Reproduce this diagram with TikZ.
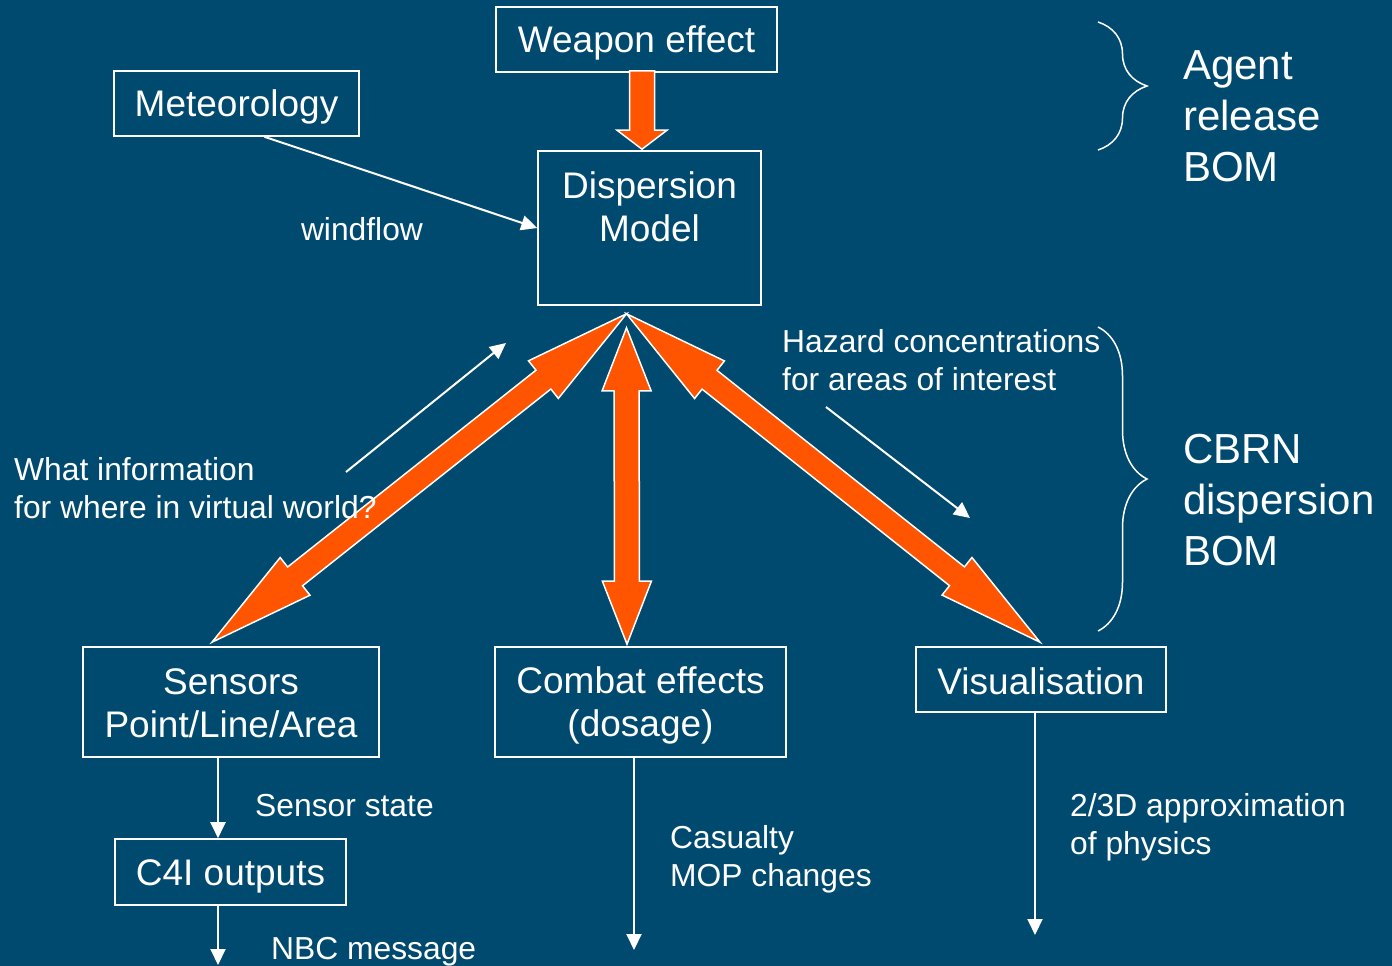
\documentclass[tikz,border=0pt]{standalone}
\usepackage{fontspec}
\setmainfont{Liberation Sans}
\usetikzlibrary{calc,arrows.meta,decorations.pathreplacing}
\definecolor{slidebg}{RGB}{0,74,111}
\definecolor{flow}{RGB}{255,85,0}
% #1 from, #2 to, #3 head length, #4 head half width, #5 shaft half width
\newcommand\dblarrow[5]{%
  \path ($(#1)!#3!(#2)$) coordinate (ha) ($(#2)!#3!(#1)$) coordinate (hb);
  \filldraw[bigarrow] (#1) -- ($(ha)!#4!90:(#2)$) -- ($(ha)!#5!90:(#2)$)
    -- ($(hb)!#5!-90:(#1)$) -- ($(hb)!#4!-90:(#1)$) -- (#2)
    -- ($(hb)!#4!90:(#1)$) -- ($(hb)!#5!90:(#1)$)
    -- ($(ha)!#5!-90:(#2)$) -- ($(ha)!#4!-90:(#2)$) -- cycle;}
\newcommand\onearrow[5]{%
  \path ($(#2)!#3!(#1)$) coordinate (hb);
  \filldraw[bigarrow] ($(#1)!#5!90:(#2)$) -- ($(hb)!#5!-90:(#1)$)
    -- ($(hb)!#4!-90:(#1)$) -- (#2) -- ($(hb)!#4!90:(#1)$)
    -- ($(hb)!#5!90:(#1)$) -- ($(#1)!#5!-90:(#2)$) -- cycle;}
\begin{document}
\begin{tikzpicture}[x=1pt,y=-1pt,
	box/.style={draw=white,line width=1.6pt,inner sep=0pt},
	boxtext/.style={inner sep=0pt,text=white,align=center,font=\fontsize{37}{43}\selectfont},
	lbl/.style={text=white,inner sep=0pt,align=left,font=\fontsize{31.8}{38}\selectfont},
	side/.style={text=white,inner sep=0pt,align=left,font=\fontsize{42}{51}\selectfont},
	thin/.style={white,line width=2pt,-{Triangle[length=16pt,width=15pt]}},
	bigarrow/.style={fill=flow,draw=white,line width=1.5pt,line join=miter},
	curly/.style={white,line width=1.5pt,decorate,decoration={brace,amplitude=49pt}}]
		\fill[slidebg] (0,0) rectangle (1392,966);
		\useasboundingbox (0,0) rectangle (1392,966);
		
		\node[box,minimum width=281pt,minimum height=65pt] (weap) at (636.5,39.5) {};
		\node[boxtext] (weapt) at (636.5,42.5) {Weapon effect};
		\node[box,minimum width=245pt,minimum height=65pt] (met) at (236.5,103.5) {};
		\node[boxtext] (mett) at (236.5,106.5) {Meteorology};
		\node[box,minimum width=223pt,minimum height=154pt] (disp) at (649.5,228) {};
		\node[boxtext] (dispt) at (649.5,207) {Dispersion\\Model};
		\node[box,minimum width=296pt,minimum height=110pt] (sens) at (231,702) {};
		\node[boxtext] (senst) at (231,703.5) {Sensors\\Point/Line/Area};
		\node[box,minimum width=291pt,minimum height=110pt] (comb) at (640.5,702) {};
		\node[boxtext] (combt) at (640.5,705.5) {Combat effects\\(dosage)};
		\node[box,minimum width=250pt,minimum height=65pt] (vis) at (1041,679.5) {};
		\node[boxtext] (vist) at (1041,681.5) {Visualisation};
		\node[box,minimum width=231pt,minimum height=66pt] (c4i) at (230.5,872) {};
		\node[boxtext] (c4it) at (230.5,876) {C4I outputs};
		
		\coordinate (wa) at ($(weap.south)+(5.5,-2)$);
		\coordinate (wb) at ($(disp.north)+(-7.5,-1)$);
		\coordinate (hub) at ($(disp.south)+(-23,8)$);
		\coordinate (hubv) at ($(disp.south)+(-23,22)$);
		\coordinate (sa) at ($(sens.north)+(-19,-4)$);
		\coordinate (ca) at ($(comb.north)+(-13.5,-2)$);
		\coordinate (va) at ($(vis.north)+(-1,-4)$);
		\onearrow{wa}{wb}{19pt}{25pt}{12.5pt}
		\dblarrow{hub}{sa}{106pt}{24pt}{12pt}
		\dblarrow{hubv}{ca}{63pt}{24.5pt}{12.5pt}
		\dblarrow{hub}{va}{106pt}{24pt}{12pt}
		
		\draw[thin] ($(met.south)+(28,0)$) -- (disp.west);
		\node[lbl] (wind) at (362,229) {windflow};
		
		\coordinate (qa) at (346,472); \coordinate (qb) at (506,343);
		\draw[thin] (qa) -- (qb);
		\node[lbl,anchor=west] (quest) at (14,488) {What information\\for where in virtual world?};
		
		\coordinate (za) at (826,407); \coordinate (zb) at (970,518);
		\draw[thin] (za) -- (zb);
		\node[lbl,anchor=west] (haz) at (782,360) {Hazard concentrations\\for areas of interest};
		
		\draw[thin] ($(sens.south)+(-13,0)$) -- ($(c4i.north)+(-12.5,0)$);
		\node[lbl,anchor=west] (sstate) at (255,806) {Sensor state};
		\coordinate (nbcend) at (218,965);
		\draw[thin] ($(c4i.south)+(-12.5,0)$) -- (nbcend);
		\node[lbl,anchor=west] (nbc) at (271,952) {NBC message};
		
		\coordinate (casend) at (634,950);
		\draw[thin] ($(comb.south)+(-6.5,0)$) -- (casend);
		\node[lbl,anchor=west] (cas) at (670,859) {Casualty\\MOP changes};
		
		\coordinate (visend) at (1035,935);
		\draw[thin] ($(vis.south)+(-6,0)$) -- (visend);
		\node[lbl,anchor=west] (phys) at (1070,827) {2/3D approximation\\of physics};
		
		\draw[curly] (1098,22) -- (1098,150);
		\node[side,anchor=west] (agent) at (1183,116) {Agent\\release\\BOM};
		\draw[curly] (1098,327) -- (1098,631);
		\node[side,anchor=west] (cbrn) at (1183,500) {CBRN\\dispersion\\BOM};
\end{tikzpicture}
\end{document}
